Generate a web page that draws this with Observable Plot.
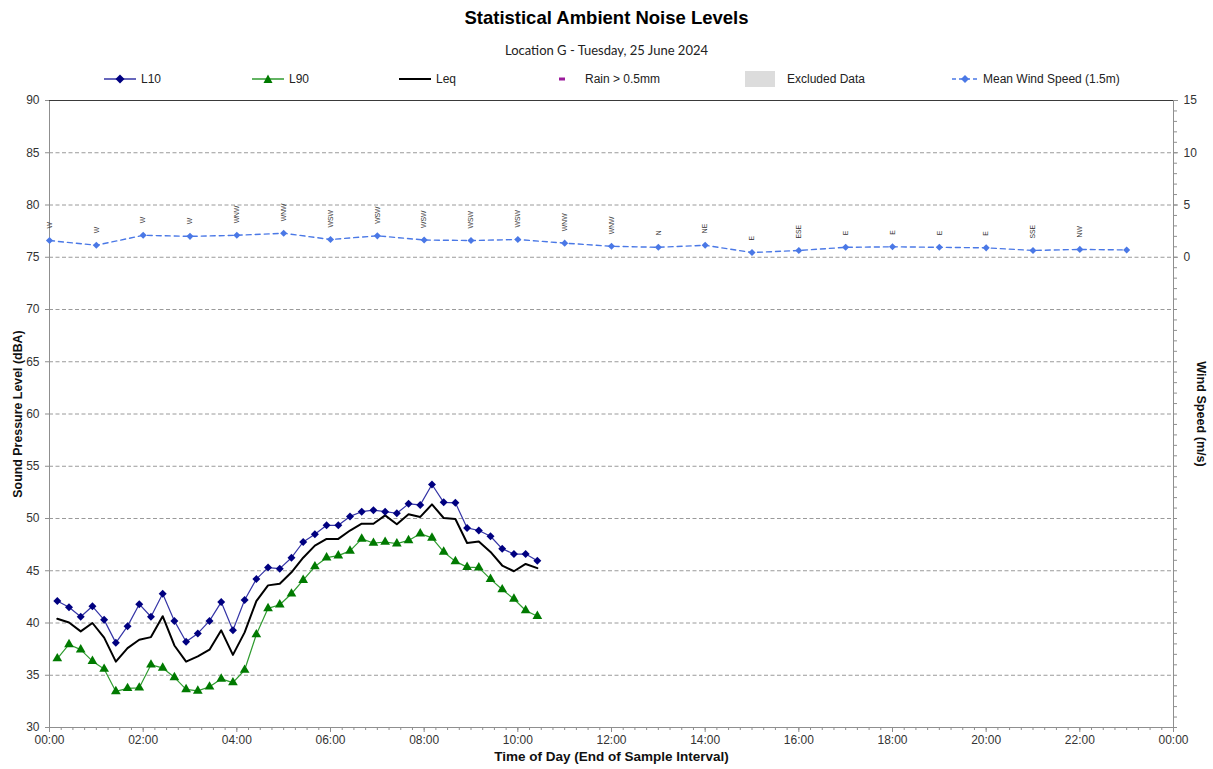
<!DOCTYPE html>
<html><head><meta charset="utf-8">
<script src="https://cdn.jsdelivr.net/npm/d3@7"></script>
<script src="https://cdn.jsdelivr.net/npm/@observablehq/plot@0.6"></script>
<style>
body{margin:0;background:#fff;font-family:"Liberation Sans",Arial,sans-serif;color:#222;}
#wrap{position:relative;width:1213px;height:769px;overflow:hidden;}
#title{position:absolute;top:7px;left:0;width:1213px;text-align:center;font-weight:bold;font-size:18.5px;color:#000;}
#subtitle{position:absolute;top:42px;left:0;width:1213px;text-align:center;font-size:13px;font-family:Lato,"Open Sans",sans-serif;color:#222;}
#legend{position:absolute;top:70px;left:0;width:1213px;height:18px;font-size:12px;}
.li{position:absolute;top:0;height:18px;display:flex;align-items:center;white-space:nowrap;}
.li svg{margin-right:5px;}
#chart{position:absolute;top:90px;left:0;}
</style></head>
<body><div id="wrap">
<div id="title">Statistical Ambient Noise Levels</div>
<div id="subtitle">Location G - Tuesday, 25 June 2024</div>
<div id="legend"></div>
<div id="chart"></div>
</div>
<script>
// ---- data ----
const noiseTimes = ["00:10","00:25","00:40","00:55","01:10","01:25","01:40","01:55","02:10","02:25","02:40","02:55","03:10","03:25","03:40","03:55","04:10","04:25","04:40","04:55","05:10","05:25","05:40","05:55","06:10","06:25","06:40","06:55","07:10","07:25","07:40","07:55","08:10","08:25","08:40","08:55","09:10","09:25","09:40","09:55","10:10","10:25"];
const L10 = [42.1,41.5,40.6,41.6,40.3,38.1,39.7,41.8,40.6,42.8,40.2,38.2,39.0,40.2,42.0,39.3,42.2,44.2,45.3,45.2,46.25,47.75,48.5,49.35,49.35,50.2,50.65,50.8,50.65,50.5,51.4,51.3,53.25,51.55,51.5,49.1,48.85,48.3,47.1,46.6,46.6,45.95];
const Leq = [40.4,40.05,39.2,40.0,38.6,36.3,37.6,38.4,38.65,40.65,37.85,36.3,36.8,37.45,39.3,36.95,39.1,42.1,43.6,43.75,44.85,46.25,47.4,48.05,48.05,48.85,49.5,49.5,50.3,49.45,50.4,50.15,51.35,50.05,49.95,47.65,47.8,46.8,45.5,44.95,45.65,45.25];
const L90 = [36.6,37.95,37.45,36.35,35.6,33.45,33.75,33.8,36.0,35.7,34.8,33.65,33.5,33.9,34.65,34.3,35.5,38.9,41.4,41.75,42.8,44.1,45.4,46.25,46.45,46.9,48.05,47.65,47.75,47.6,47.9,48.55,48.15,46.8,45.9,45.35,45.3,44.2,43.2,42.3,41.2,40.65];
const windTimes = ["00:00","01:00","02:00","03:00","04:00","05:00","06:00","07:00","08:00","09:00","10:00","11:00","12:00","13:00","14:00","15:00","16:00","17:00","18:00","19:00","20:00","21:00","22:00","23:00"];
const windSpeed = [1.6,1.15,2.1,2.0,2.1,2.3,1.7,2.05,1.65,1.6,1.7,1.35,1.05,0.95,1.15,0.45,0.65,0.95,1.0,0.95,0.9,0.65,0.75,0.7];
const windDir = ["W","W","W","W","WNW","WNW","WSW","WSW","WSW","WSW","WSW","WNW","WNW","N","NE","E","ESE","E","E","E","E","SSE","NW",""];
const yTicks = [30,35,40,45,50,55,60,65,70,75,80,85,90];
const windTicks = [0,5,10,15];
const xTicks = [0,2,4,6,8,10,12,14,16,18,20,22,24];
const legendNames = ["L10","L90","Leq","Rain > 0.5mm","Excluded Data","Mean Wind Speed (1.5m)"];

// ---- build tables ----
const toH = s => { const [h,m] = s.split(":").map(Number); return h + m/60; };
const noise = noiseTimes.map((t,i) => ({t: toH(t), l10: L10[i], leq: Leq[i], l90: L90[i]}));
const windOffset = 75; // wind 0 m/s sits on 75 dBA
const wind = windTimes.map((t,i) => ({t: toH(t), w: windSpeed[i], y: windSpeed[i] + windOffset, dir: windDir[i]}));

const C = {l10line:"#3434A6", l10:"#000080", l90line:"#2F9B2F", l90:"#007A00", leq:"#000", wind:"#4A78E6", axis:"#8f8f8f", grid:"#9a9a9a"};

// ---- legend ----
const legendX = [104, 252, 399, 552, 745, 952];
const swatch = [
  `<svg width="32" height="12"><line x1="0" y1="6" x2="32" y2="6" stroke="${C.l10line}" stroke-width="1.5"/><path d="M16,1.5L20.5,6L16,10.5L11.5,6Z" fill="${C.l10}"/></svg>`,
  `<svg width="32" height="12"><line x1="0" y1="6" x2="32" y2="6" stroke="${C.l90line}" stroke-width="1.5"/><path d="M16,1.5L20.5,10L11.5,10Z" fill="${C.l90}"/></svg>`,
  `<svg width="32" height="12"><line x1="0" y1="6" x2="32" y2="6" stroke="#000" stroke-width="2"/></svg>`,
  `<svg width="28" height="12"><rect x="7" y="4.5" width="6" height="3" fill="#9B1B9B"/></svg>`,
  `<svg width="37" height="16"><rect x="0" y="0" width="30" height="16" fill="#DCDCDC"/></svg>`,
  `<svg width="26" height="12"><line x1="0" y1="6" x2="26" y2="6" stroke="${C.wind}" stroke-width="1.5" stroke-dasharray="4,3"/><path d="M13,2L17,6L13,10L9,6Z" fill="${C.wind}"/></svg>`
];
const lg = document.getElementById("legend");
legendNames.forEach((n,i) => {
  const d = document.createElement("div");
  d.className = "li"; d.style.left = legendX[i] + "px";
  d.innerHTML = swatch[i] + `<span>${n}</span>`;
  lg.appendChild(d);
});

// ---- chart ----
const fmtHour = d => String(d % 24).padStart(2,"0") + ":00";
const chart = Plot.plot({
  width: 1213, height: 679,
  marginTop: 10, marginBottom: 42, marginLeft: 49, marginRight: 40,
  x: {domain: [0, 24]},
  y: {domain: [30, 90]},
  style: {fontFamily: "'Liberation Sans', Arial, sans-serif", fontSize: "12px", color: "#333", background: "#fff"},
  marks: [
    Plot.gridY(yTicks.filter(d => d > 30 && d < 90), {stroke: C.grid, strokeOpacity: 1, strokeDasharray: "4,2.5", strokeWidth: 1}),
    Plot.ruleX([0], {stroke: C.axis}),
    Plot.ruleX([24], {stroke: C.axis}),
    Plot.ruleY([30], {stroke: C.axis}),
    Plot.ruleY([90], {stroke: "#3a3a3a", strokeWidth: 1.2}),
    Plot.axisY(yTicks, {anchor: "left", tickSize: 4, tickPadding: 6, stroke: C.axis, label: null, fontSize: 12}),
    Plot.axisY(d3.range(30, 91, 1), {anchor: "right", tickSize: 3, tickFormat: () => "", stroke: C.axis, label: null}),
    Plot.axisY(windTicks.map(d => d + windOffset), {anchor: "right", tickSize: 4, tickPadding: 6, tickFormat: d => d - windOffset, stroke: C.axis, label: null, fontSize: 12}),
    Plot.axisX(d3.range(0, 24.01, 0.25), {anchor: "bottom", tickSize: 3, tickFormat: () => "", stroke: C.axis, label: null}),
    Plot.axisX(xTicks, {anchor: "bottom", tickSize: 5, tickPadding: 3, tickFormat: fmtHour, stroke: C.axis, label: null, fontSize: 12}),
    // wind
    Plot.line(wind, {x: "t", y: "y", stroke: C.wind, strokeWidth: 1.4, strokeDasharray: "5,4"}),
    Plot.dot(wind, {x: "t", y: "y", symbol: "diamond2", r: 3.2, fill: C.wind}),
    Plot.text(wind, {x: "t", y: "y", text: "dir", rotate: -90, textAnchor: "start", dy: -12, fontSize: 6.8, fill: "#333"}),
    // noise
    Plot.line(noise, {x: "t", y: "l90", stroke: C.l90line, strokeWidth: 1.2}),
    Plot.dot(noise, {x: "t", y: "l90", symbol: "triangle", r: 3.6, fill: C.l90}),
    Plot.line(noise, {x: "t", y: "leq", stroke: C.leq, strokeWidth: 2}),
    Plot.line(noise, {x: "t", y: "l10", stroke: C.l10line, strokeWidth: 1.2}),
    Plot.dot(noise, {x: "t", y: "l10", symbol: "diamond2", r: 3.6, fill: C.l10}),
    // axis titles
    Plot.text(["Sound Pressure Level (dBA)"], {frameAnchor: "left", textAnchor: "middle", dx: -31, rotate: -90, fontWeight: "bold", fontSize: 12.4, fill: "#111"}),
    Plot.text(["Wind Speed (m/s)"], {frameAnchor: "right", textAnchor: "middle", dx: 28, rotate: 90, fontWeight: "bold", fontSize: 12.6, fill: "#111"}),
    Plot.text(["Time of Day (End of Sample Interval)"], {frameAnchor: "bottom", textAnchor: "middle", dy: 33, fontWeight: "bold", fontSize: 13.5, fill: "#111"})
  ]
});
document.getElementById("chart").appendChild(chart);
</script>
</body></html>
